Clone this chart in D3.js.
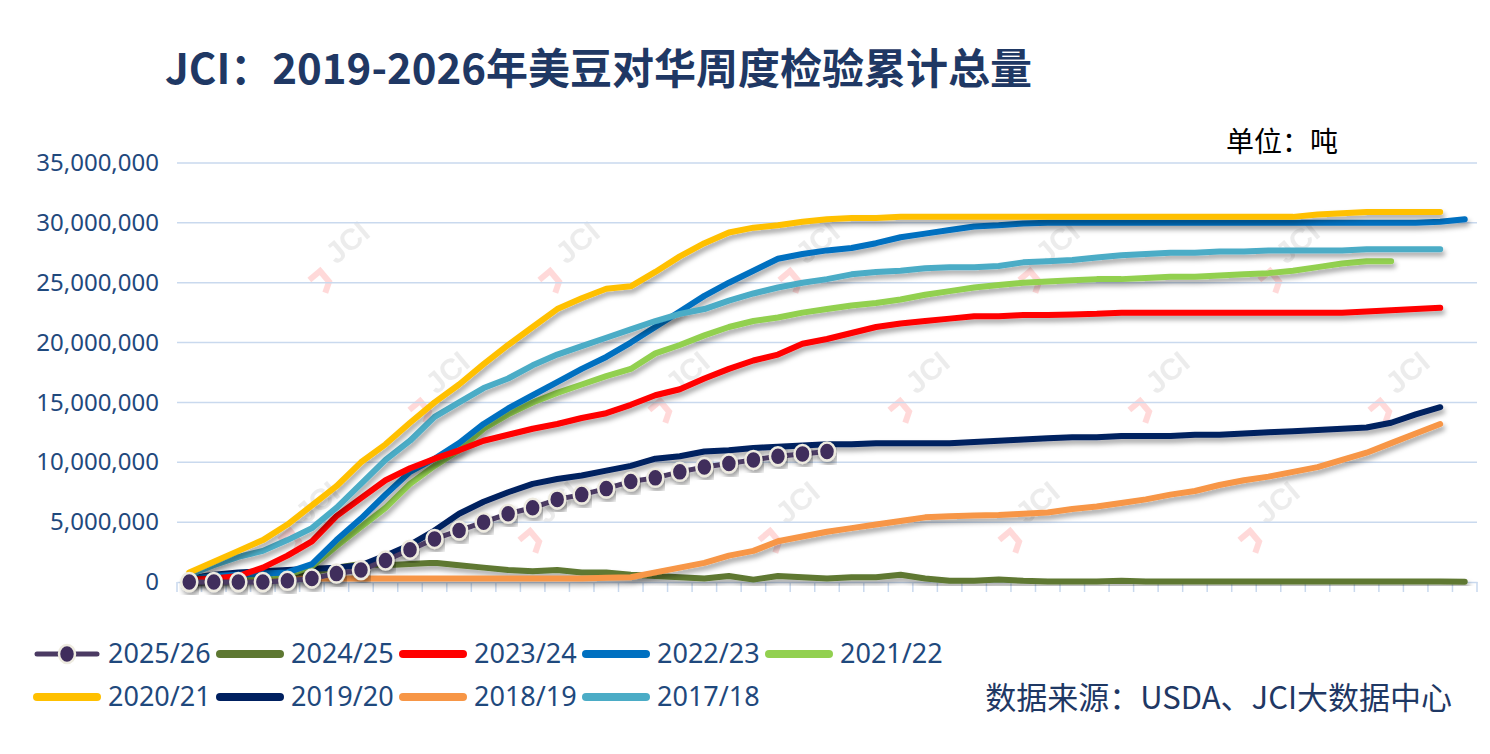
<!DOCTYPE html>
<html><head><meta charset="utf-8">
<style>body{margin:0;background:#fff}</style>
</head><body>
<svg width="1490" height="754"></svg>
<script src="https://d3js.org/d3.v7.min.js"></script>
<script>
var weeks = d3.range(1, 54);
var yTicks = [0, 5e6, 10e6, 15e6, 20e6, 25e6, 30e6, 35e6];

// values in million tonnes, by week
var s2526 = [0,0,0,0,0.1,0.3,0.7,1.0,1.8,2.7,3.6,4.3,5.0,5.7,6.2,6.9,7.3,7.8,8.4,8.7,9.2,9.6,9.9,10.2,10.5,10.7,10.9];
var s2425 = [0.1,0.3,0.4,0.5,0.6,0.8,1.2,1.5,1.4,1.5,1.6,1.4,1.2,1.0,0.9,1.0,0.8,0.8,0.6,0.5,0.4,0.3,0.5,0.2,0.5,0.4,0.3,0.4,0.4,0.6,0.3,0.1,0.1,0.2,0.1,0.05,0.05,0.05,0.1,0.05,0.05,0.05,0.05,0.05,0.05,0.05,0.05,0.05,0.05,0.05,0.05,0.05,0.02];
var s2324 = [0.2,0.3,0.5,1.2,2.2,3.4,5.5,7.0,8.5,9.5,10.3,11.0,11.8,12.3,12.8,13.2,13.7,14.1,14.8,15.6,16.1,17.0,17.8,18.5,19.0,19.9,20.3,20.8,21.3,21.6,21.8,22.0,22.2,22.2,22.3,22.3,22.35,22.4,22.5,22.5,22.5,22.5,22.5,22.5,22.5,22.5,22.5,22.5,22.6,22.7,22.8,22.9];
var s2223 = [0.3,0.5,0.6,0.7,0.8,1.5,3.5,5.3,7.3,9.2,10.3,11.6,13.2,14.5,15.6,16.7,17.8,18.8,20.0,21.3,22.6,23.9,25.0,26.0,27.0,27.4,27.7,27.9,28.3,28.8,29.1,29.4,29.7,29.8,29.95,30.0,30.0,30.0,30.0,30.0,30.0,30.0,30.0,30.0,30.0,30.0,30.0,30.0,30.0,30.0,30.0,30.1,30.3];
var s2122 = [0.2,0.3,0.4,0.5,0.6,1.3,3.0,4.6,6.2,8.2,9.7,11.0,12.8,14.0,15.0,15.8,16.5,17.2,17.8,19.1,19.8,20.6,21.3,21.8,22.1,22.5,22.8,23.1,23.3,23.6,24.0,24.3,24.6,24.8,25.0,25.1,25.2,25.3,25.3,25.4,25.5,25.5,25.6,25.7,25.8,26.0,26.3,26.6,26.8,26.8];
var s2021 = [0.8,1.7,2.6,3.5,4.8,6.4,8.0,10.0,11.5,13.3,15.0,16.5,18.2,19.8,21.3,22.8,23.7,24.5,24.7,25.9,27.2,28.3,29.2,29.6,29.8,30.1,30.3,30.4,30.4,30.5,30.5,30.5,30.5,30.5,30.5,30.5,30.5,30.5,30.5,30.5,30.5,30.5,30.5,30.5,30.5,30.5,30.7,30.8,30.9,30.9,30.9,30.9];
var s1920 = [0.3,0.6,0.8,0.9,1.0,1.1,1.2,1.4,2.2,3.1,4.3,5.7,6.7,7.5,8.2,8.6,8.9,9.3,9.7,10.3,10.5,10.9,11.0,11.2,11.3,11.4,11.5,11.5,11.6,11.6,11.6,11.6,11.7,11.8,11.9,12.0,12.1,12.1,12.2,12.2,12.2,12.3,12.3,12.4,12.5,12.6,12.7,12.8,12.9,13.3,14.0,14.6];
var s1819 = [0.1,0.15,0.2,0.2,0.25,0.3,0.3,0.3,0.3,0.3,0.3,0.3,0.3,0.3,0.3,0.3,0.3,0.35,0.4,0.8,1.2,1.6,2.2,2.6,3.4,3.8,4.2,4.5,4.8,5.1,5.4,5.5,5.55,5.6,5.7,5.8,6.1,6.3,6.6,6.9,7.3,7.6,8.1,8.5,8.8,9.2,9.6,10.2,10.8,11.6,12.4,13.2];
var s1718 = [0.6,1.4,2.1,2.6,3.5,4.5,6.2,8.2,10.2,11.8,13.8,15.0,16.2,17.0,18.1,19.0,19.7,20.4,21.1,21.8,22.4,22.8,23.5,24.1,24.6,25.0,25.3,25.7,25.9,26.0,26.2,26.3,26.3,26.4,26.7,26.8,26.9,27.1,27.3,27.4,27.5,27.5,27.6,27.6,27.7,27.7,27.7,27.7,27.8,27.8,27.8,27.8];

var seriesNames = ["2025/26","2024/25","2023/24","2022/23","2021/22","2020/21","2019/20","2018/19","2017/18"];
var seriesVals = [s2526,s2425,s2324,s2223,s2122,s2021,s1920,s1819,s1718];
var colors = ["#4B3A63","#5E7832","#FF0000","#0070C0","#92D050","#FFC000","#002060","#F79646","#4BACC6"];

var svg = d3.select("svg"),
    margin = {top: 163, right: 13, bottom: 172, left: 177},
    width = 1490 - margin.left - margin.right,
    height = 754 - margin.top - margin.bottom;
var font = "'Noto Sans','Liberation Sans',sans-serif";
var txt = "#1F497D";

var defs = svg.append("defs");
var f = defs.append("filter").attr("id", "sh").attr("x", "-10%").attr("y", "-10%").attr("width", "120%").attr("height", "130%");
f.append("feDropShadow").attr("dx", 2).attr("dy", 4).attr("stdDeviation", 2.5).attr("flood-color", "#000").attr("flood-opacity", 0.35);

svg.append("text").attr("x", 165).attr("y", 84)
  .style("font", "bold 42px 'Noto Sans CJK SC',sans-serif").attr("fill", "#1F3864")
  .text("JCI：2019-2026年美豆对华周度检验累计总量");
svg.append("text").attr("x", 1226).attr("y", 152)
  .style("font", "28px 'Noto Sans CJK SC',sans-serif").attr("fill", "#000").text("单位：吨");
svg.append("text").attr("x", 1452).attr("y", 709).attr("text-anchor", "end")
  .style("font", "31px 'Noto Sans CJK SC',sans-serif").attr("fill", "#1F3864").text("数据来源：USDA、JCI大数据中心");

var g = svg.append("g").attr("transform", "translate(" + margin.left + "," + margin.top + ")");

var x = d3.scaleBand().domain(weeks).range([0, width]);
var y = d3.scaleLinear().domain([0, 35e6]).range([height, 0]);

// watermarks
var wm = [[150,110],[380,110],[620,110],[860,110],[1100,110],[250,240],[490,240],[730,240],[970,240],[1210,240],[120,370],[360,370],[600,370],[840,370],[1080,370]];
wm.forEach(function(p) {
  var w = g.append("g").attr("transform", "translate(" + p[0] + "," + p[1] + ") rotate(-40)").attr("opacity", 0.18);
  w.append("text").attr("x", 12).style("font", "bold 30px sans-serif").attr("fill", "#999").text("JCI");
  w.append("path").attr("d", "M-18,-6 L-4,-6 L-4,8 L-14,14").attr("fill", "none").attr("stroke", "#f33").attr("stroke-width", 6);
});

g.append("g").selectAll("line").data(yTicks.slice(1)).join("line")
  .attr("x1", 0).attr("x2", width).attr("y1", y).attr("y2", y)
  .attr("stroke", "#C9D9EE").attr("stroke-width", 1.5);

var yAxis = g.append("g").call(d3.axisLeft(y).tickValues(yTicks).tickSize(0).tickPadding(18).tickFormat(d3.format(",")));
yAxis.select(".domain").remove();
yAxis.selectAll("text").style("font", "24px " + font).attr("fill", txt);

var xAxis = g.append("g").attr("transform", "translate(0," + height + ")")
  .call(d3.axisBottom(x).tickSize(0).tickFormat(""));
xAxis.select(".domain").attr("stroke", "#C9D9EE").attr("stroke-width", 1.5);
g.append("g").selectAll("line").data(d3.range(0, weeks.length + 1)).join("line")
  .attr("x1", function(i){ return i * x.step(); }).attr("x2", function(i){ return i * x.step(); })
  .attr("y1", height).attr("y2", height + 10).attr("stroke", "#C9D9EE").attr("stroke-width", 1.5);

var line = d3.line()
  .x(function(d, i) { return x(weeks[i]) + x.bandwidth() / 2; })
  .y(function(d) { return y(d * 1e6); });

var order = [1, 7, 6, 4, 3, 2, 8, 5];
order.forEach(function(k) {
  g.append("path").datum(seriesVals[k]).attr("d", line)
    .attr("fill", "none").attr("stroke", colors[k]).attr("stroke-width", 6)
    .attr("stroke-linejoin", "round").attr("stroke-linecap", "round").attr("filter", "url(#sh)");
});
g.append("path").datum(s2526).attr("d", line)
  .attr("fill", "none").attr("stroke", colors[0]).attr("stroke-width", 5).attr("filter", "url(#sh)");
g.append("g").selectAll("ellipse").data(s2526).join("ellipse")
  .attr("cx", function(d, i) { return x(weeks[i]) + x.bandwidth() / 2; })
  .attr("cy", function(d) { return y(d * 1e6); })
  .attr("rx", 8).attr("ry", 9).attr("fill", "#3F2D5C").attr("stroke", "#EEEBE0").attr("stroke-width", 2.5)
  .attr("filter", "url(#sh)");

// legend
var lg = svg.append("g");
seriesNames.forEach(function(n, i) {
  var col = i % 5, row = Math.floor(i / 5);
  var lx = 35 + col * 183, ly = 654 + row * 43;
  var it = lg.append("g").attr("transform", "translate(" + lx + "," + ly + ")");
  it.append("line").attr("x1", 2).attr("x2", 62).attr("stroke", colors[i])
    .attr("stroke-width", i === 0 ? 5 : 8).attr("stroke-linecap", "round");
  if (i === 0) it.append("ellipse").attr("cx", 32).attr("rx", 8).attr("ry", 9)
    .attr("fill", "#3F2D5C").attr("stroke", "#EEEBE0").attr("stroke-width", 2.5);
  it.append("text").attr("x", 73).attr("dy", "0.35em").style("font", "27px " + font).attr("fill", txt).text(n);
});
</script>
</body></html>
